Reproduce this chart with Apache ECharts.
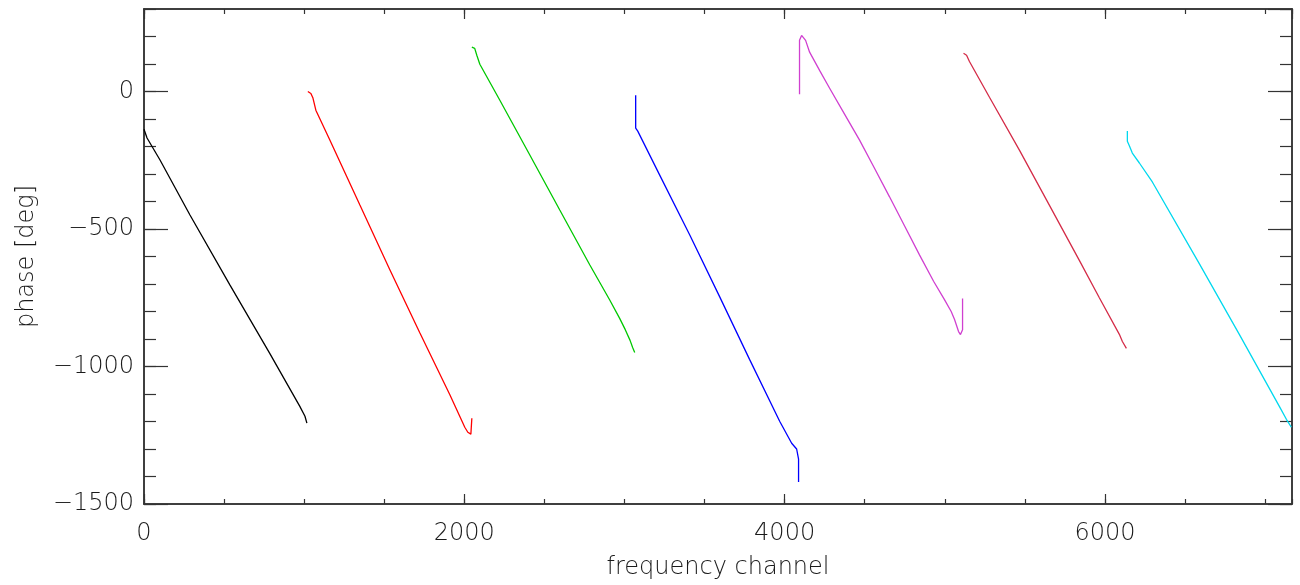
<!DOCTYPE html>
<html><head><meta charset="utf-8">
<script src="https://cdn.jsdelivr.net/npm/echarts@6/dist/echarts.min.js"></script>
<style>html,body{margin:0;padding:0;background:#fff}#c{width:1300px;height:585px}</style>
</head><body><div id="c"></div>
<script>
// Data (channel, phase in degrees)
const seg1Ch = [0, 19, 100, 287, 537, 786, 973, 1005, 1017];
const seg1Ph = [-137, -169, -249, -449, -704, -953, -1145, -1181, -1206];
const seg2Ch = [1023, 1042, 1055, 1073, 1161, 1348, 1535, 1722, 1909, 2003, 2022, 2041, 2047];
const seg2Ph = [0, -7, -24, -68, -177, -413, -648, -877, -1102, -1221, -1239, -1246, -1188];
const seg3Ch = [2047, 2065, 2078, 2097, 2221, 2409, 2596, 2783, 2908, 2970, 3005, 3035, 3051, 3064];
const seg3Ph = [161, 157, 132, 99, -31, -231, -431, -630, -758, -825, -866, -905, -931, -949];
const seg4Ch = [3070, 3070, 3083, 3220, 3407, 3594, 3781, 3969, 4044, 4075, 4087, 4087];
const seg4Ph = [-14, -133, -144, -304, -521, -746, -974, -1199, -1279, -1300, -1337, -1420];
const seg5Ch = [4093, 4093, 4106, 4118, 4131, 4156, 4220, 4281, 4375, 4468, 4562, 4655, 4750, 4842, 4930, 4998, 5040, 5061, 5086, 5098, 5111, 5111];
const seg5Ph = [-10, 186, 204, 208, 186, 143, 75, 12, -83, -177, -280, -383, -490, -594, -690, -757, -800, -829, -873, -884, -866, -753];
const seg6Ch = [5117, 5136, 5154, 5279, 5466, 5635, 5841, 5965, 6090, 6109, 6134];
const seg6Ph = [139, 132, 109, -21, -213, -394, -615, -750, -883, -909, -934];
const seg7Ch = [6140, 6140, 6153, 6171, 6215, 6296, 6590, 6839, 7089, 7133, 7145, 7164];
const seg7Ph = [-144, -181, -198, -224, -260, -329, -627, -883, -1145, -1192, -1199, -1221];

const segColors = ['#000000', '#ff0000', '#00c800', '#0000ff', '#d040d0', '#d42c48', '#00d8ee'];
const xTickLabels = ['0', '2000', '4000', '6000'];
const yTickLabels = ['0', '−500', '−1000', '−1500'];

const segs = [[seg1Ch, seg1Ph], [seg2Ch, seg2Ph], [seg3Ch, seg3Ph], [seg4Ch, seg4Ph], [seg5Ch, seg5Ph], [seg6Ch, seg6Ph], [seg7Ch, seg7Ph]];

const XMIN = 0, XMAX = 7168, YMIN = -1500, YMAX = 300;
const font = '"DejaVu Sans", sans-serif';
const axisCol = '#333';
const txtCol = '#1a1a1a';

function xAx(pos, interval, len, labels) {
  return {
    type: 'value', position: pos, min: XMIN, max: XMAX, interval: interval,
    axisLine: { show: true, onZero: false, lineStyle: { color: axisCol, width: 1.5 } },
    axisTick: { show: true, inside: true, length: len, lineStyle: { color: axisCol, width: 1.2 } },
    axisLabel: labels ? {
      show: true, showMaxLabel: false, margin: 18, color: txtCol, fontSize: 24, fontFamily: font, fontWeight: 300,
      formatter: v => { const i = xTickLabels.indexOf(String(v)); return i >= 0 ? xTickLabels[i] : ''; }
    } : { show: false },
    splitLine: { show: false },
    name: labels ? 'frequency channel' : '', nameLocation: 'middle', nameGap: 52,
    nameTextStyle: { color: txtCol, fontSize: 24, fontFamily: font, fontWeight: 300 }
  };
}
function yAx(pos, interval, len, labels) {
  return {
    type: 'value', position: pos, min: YMIN, max: YMAX, interval: interval,
    axisLine: { show: true, onZero: false, lineStyle: { color: axisCol, width: 1.5 } },
    axisTick: { show: true, inside: true, length: len, lineStyle: { color: axisCol, width: 1.2 } },
    axisLabel: labels ? {
      show: true, showMaxLabel: false, margin: 10, color: txtCol, fontSize: 24, fontFamily: font, fontWeight: 300,
      formatter: v => { const m = { '0': 0, '-500': 1, '-1000': 2, '-1500': 3 }; return (String(v) in m) ? yTickLabels[m[String(v)]] : ''; }
    } : { show: false },
    splitLine: { show: false },
    name: labels ? 'phase [deg]' : '', nameLocation: 'middle', nameGap: 105,
    nameTextStyle: { color: txtCol, fontSize: 24, fontFamily: font, fontWeight: 300 }
  };
}

const chart = echarts.init(document.getElementById('c'), null, { renderer: 'canvas' });
chart.setOption({
  animation: false,
  backgroundColor: '#fff',
  grid: { left: 144, right: 8, top: 9, bottom: 80, containLabel: false },
  xAxis: [xAx('bottom', 2000, 10, true), xAx('bottom', 500, 5, false), xAx('top', 2000, 10, false), xAx('top', 500, 5, false)],
  yAxis: [yAx('left', 500, 24, true), yAx('left', 100, 12, false), yAx('right', 500, 24, false), yAx('right', 100, 12, false)],
  series: segs.map((s, i) => ({
    type: 'line', xAxisIndex: 0, yAxisIndex: 0, showSymbol: false, symbol: 'none',
    lineStyle: { color: segColors[i], width: 1.3 },
    data: s[0].map((c, k) => [c, s[1][k]])
  }))
});
</script></body></html>
